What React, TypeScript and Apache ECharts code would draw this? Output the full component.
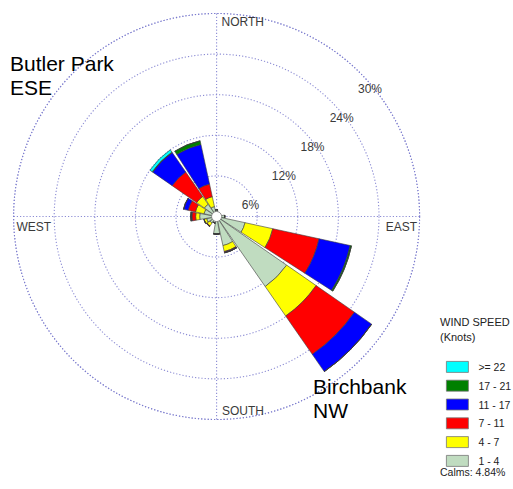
import React, { useEffect, useRef } from "react";
import * as echarts from "echarts";

// ---- data ----
const directions = ["N", "NNE", "NE", "ENE", "E", "ESE", "SE", "SSE", "S", "SSW", "SW", "WSW", "W", "WNW", "NW", "NNW"];
const speedClasses = ["1 - 4", "4 - 7", "7 - 11", "11 - 17", "17 - 21", ">= 22"];
// percent frequency per direction, per speed class (not cumulative)
const s1to4 =   [1.0, 0.6, 0.5, 0.6, 1.2, 4.3, 12.6, 4.4, 2.6, 1.0, 1.2, 1.5, 2.5, 1.9, 2.2, 1.5];
const s4to7 =   [0, 0, 0, 0, 0, 4.2, 5.3, 0.9, 0, 0, 0.5, 0.4, 0.6, 1.3, 1.4, 1.5];
const s7to11 =  [0, 0, 0, 0, 0, 7.0, 6.9, 0.1, 0, 0, 0.1, 0, 0.55, 1.1, 4.4, 1.9];
const s11to17 = [0, 0, 0, 0, 0, 4.7, 3.1, 0.1, 0, 0, 0, 0, 0.1, 0.7, 3.5, 6.0];
const s17to21 = [0, 0, 0, 0, 0, 0.2, 0, 0, 0, 0, 0, 0, 0.1, 0, 0.1, 0.55];
const s22plus = [0, 0, 0, 0, 0, 0, 0, 0, 0, 0, 0, 0, 0, 0, 0.4, 0];
const seriesValues = [s1to4, s4to7, s7to11, s11to17, s17to21, s22plus];
const ringTicks = [6, 12, 18, 24, 30];
const ringLabels = ["6%", "12%", "18%", "24%", "30%"];
const calmsText = "Calms: 4.84%";

// ---- style ----
const colors = ["#c0dcc0", "#ffff00", "#ff0000", "#0000ff", "#008000", "#00ffff"];
const CX = 216.6;
const CY = 216.5;
const R = 203;
const gridColor = "#7878cc";
const ringLabelPos = [
  [250.5, 204.5],
  [283.8, 176.2],
  [312.5, 147.2],
  [341.7, 117.8],
  [370, 88.7],
];

export default function App() {
  const ref = useRef<HTMLDivElement>(null);
  useEffect(() => {
    if (!ref.current) return;
    const chart = echarts.init(ref.current, null, { renderer: "svg" });
    const font = "'Liberation Sans', Arial, sans-serif";
    const dirLabel = (text: string, x: number, y: number, align: string) => ({
      type: "text",
      x,
      y,
      z: 10,
      style: { text, fill: "#3a3a3a", font: `12px ${font}`, textAlign: align, textVerticalAlign: "middle" },
    });
    const graphic: any[] = [
      dirLabel("NORTH", 221.5, 22, "left"),
      dirLabel("EAST", 417, 227, "right"),
      dirLabel("SOUTH", 222, 410.5, "left"),
      dirLabel("WEST", 16.5, 226.5, "left"),
      ...ringLabels.map((t, i) => ({
        type: "text",
        x: ringLabelPos[i][0],
        y: ringLabelPos[i][1],
        z: 10,
        style: { text: t, fill: "#3a3a3a", font: `12px ${font}`, textAlign: "center", textVerticalAlign: "middle" },
      })),
      {
        type: "circle",
        shape: { cx: CX, cy: CY, r: 5 },
        z: 20,
        style: { fill: "#ffffff", stroke: "#777", lineWidth: 0.8 },
      },
      { type: "text", x: 10, y: 63, z: 10, style: { text: "Butler Park", fill: "#000", font: `21px ${font}`, textVerticalAlign: "middle" } },
      { type: "text", x: 10, y: 87.5, z: 10, style: { text: "ESE", fill: "#000", font: `21px ${font}`, textVerticalAlign: "middle" } },
      { type: "text", x: 313, y: 386, z: 10, style: { text: "Birchbank", fill: "#000", font: `21px ${font}`, textVerticalAlign: "middle" } },
      { type: "text", x: 313, y: 410.5, z: 10, style: { text: "NW", fill: "#000", font: `21px ${font}`, textVerticalAlign: "middle" } },
      { type: "text", x: 440, y: 322, z: 10, style: { text: "WIND SPEED", fill: "#222", font: `11px ${font}`, textVerticalAlign: "middle" } },
      { type: "text", x: 440, y: 336.5, z: 10, style: { text: "(Knots)", fill: "#222", font: `11px ${font}`, textVerticalAlign: "middle" } },
      { type: "text", x: 440, y: 472, z: 10, style: { text: calmsText, fill: "#222", font: `10.5px ${font}`, textVerticalAlign: "middle" } },
    ];

    const dotted = { color: gridColor, type: [1.2, 2], width: 1.1, opacity: 0.85 };
    const option: any = {
      animation: false,
      backgroundColor: "#ffffff",
      polar: [
        { center: [CX, CY], radius: R },
        { center: [CX, CY], radius: R },
      ],
      angleAxis: [
        {
          polarIndex: 0,
          type: "category",
          data: directions,
          startAngle: 90 + 360 / directions.length / 2,
          clockwise: true,
          axisLine: { show: false },
          axisTick: { show: false },
          axisLabel: { show: false },
          splitLine: { show: false },
          z: 1,
        },
        {
          polarIndex: 1,
          type: "value",
          min: 0,
          max: 360,
          interval: 90,
          startAngle: 90,
          clockwise: true,
          axisLine: { show: true, lineStyle: dotted },
          axisTick: { show: false },
          axisLabel: { show: false },
          splitLine: { show: true, lineStyle: dotted },
          z: 0,
        },
      ],
      radiusAxis: [
        {
          polarIndex: 0,
          type: "value",
          min: 0,
          max: ringTicks[ringTicks.length - 1],
          axisLine: { show: false },
          axisTick: { show: false },
          axisLabel: { show: false },
          splitLine: { show: false },
        },
        {
          polarIndex: 1,
          type: "value",
          min: 0,
          max: ringTicks[ringTicks.length - 1],
          interval: ringTicks[0],
          axisLine: { show: false },
          axisTick: { show: false },
          axisLabel: { show: false },
          splitLine: { show: true, lineStyle: dotted },
          z: 0,
        },
      ],
      legend: {
        orient: "vertical",
        left: 441,
        top: 356,
        itemWidth: 22,
        itemHeight: 11,
        itemGap: 7,
        icon: "rect",
        data: speedClasses.slice().reverse(),
        itemStyle: { borderColor: "#777", borderWidth: 0.8 },
        textStyle: { fontFamily: font, fontSize: 10.5, color: "#222", padding: [0, 0, 0, 5] },
        selectedMode: false,
      },
      graphic,
      series: speedClasses.map((name, i) => ({
        name,
        type: "bar",
        coordinateSystem: "polar",
        polarIndex: 0,
        stack: "wind",
        barCategoryGap: "9%",
        data: seriesValues[i],
        itemStyle: { color: colors[i], borderColor: "#3a3a3a", borderWidth: 0.6 },
        z: 5,
      })),
    };
    chart.setOption(option);
    return () => chart.dispose();
  }, []);
  return <div ref={ref} style={{ position: "fixed", left: 0, top: 0, width: 513, height: 489, background: "#fff" }} />;
}
